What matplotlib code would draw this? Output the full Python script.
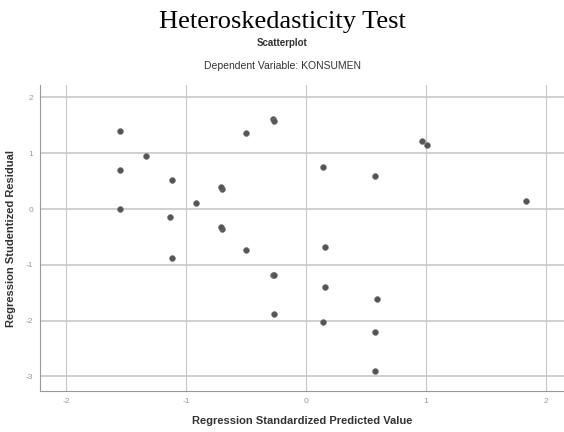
import matplotlib
matplotlib.use('Agg')
import matplotlib.pyplot as plt

# standardized predicted value vs studentized residual
pred = [-1.556, -1.336, -1.556, -1.12, -0.70, -0.71, -0.92, -1.556, -1.136,
        -0.70, -0.71, -0.50, -1.12, -0.50, -0.28, -0.27, 0.97, 1.006, 0.14,
        0.57, 1.83, 0.16, -0.28, -0.27, -0.27, 0.16, 0.59, 0.14, 0.57, 0.57]
resid = [1.40, 0.955, 0.70, 0.52, 0.36, 0.39, 0.11, 0.0, -0.15,
         -0.35, -0.33, -0.74, -0.87, 1.36, 1.62, 1.58, 1.22, 1.14, 0.76,
         0.59, 0.15, -0.68, -1.18, -1.19, -1.89, -1.39, -1.62, -2.02, -2.20, -2.90]

xticks = [-2, -1, 0, 1, 2]
yticks = [-3, -2, -1, 0, 1, 2]

plt.rcParams['font.family'] = ['Liberation Sans', 'DejaVu Sans']

fig = plt.figure(figsize=(5.64, 4.32), dpi=100)
ax = fig.add_axes([0.0709, 0.095, 0.929, 0.708])

ax.scatter(pred, resid, s=18, color='#555555', edgecolors='#777777', linewidths=0.4, zorder=3)

ax.set_xlim(-2.22, 2.15)
ax.set_ylim(-3.26, 2.22)
ax.set_xticks(xticks)
ax.set_yticks(yticks)
ax.set_xticklabels([str(t) for t in xticks], fontsize=6, color='#999999')
ax.set_yticklabels([str(t) for t in yticks], fontsize=6, color='#999999')
ax.tick_params(length=0, pad=5)

for t in yticks:
    ax.axhline(t, color='#d0d0d0', lw=1.4, zorder=1)
for t in xticks:
    ax.axvline(t, color='#c8c8c8', lw=0.8, zorder=1)

ax.spines['top'].set_visible(False)
ax.spines['right'].set_visible(False)
ax.spines['left'].set_color('#999999')
ax.spines['bottom'].set_color('#999999')

ax.set_xlabel('Regression Standardized Predicted Value', fontsize=8,
              fontweight='bold', color='#333333', labelpad=8)
ax.set_ylabel('Regression Studentized Residual', fontsize=8,
              fontweight='bold', color='#333333', labelpad=7)

fig.text(0.5, 0.95, 'Heteroskedasticity Test', ha='center', va='center',
         fontsize=19, family='Liberation Serif')
fig.text(0.5, 0.900, 'Scatterplot', ha='center', va='center',
         fontsize=7, fontweight='bold', color='#333333')
fig.text(0.5, 0.848, 'Dependent Variable: KONSUMEN', ha='center', va='center',
         fontsize=7.5, color='#333333')

fig.savefig('out.png', dpi=100)
